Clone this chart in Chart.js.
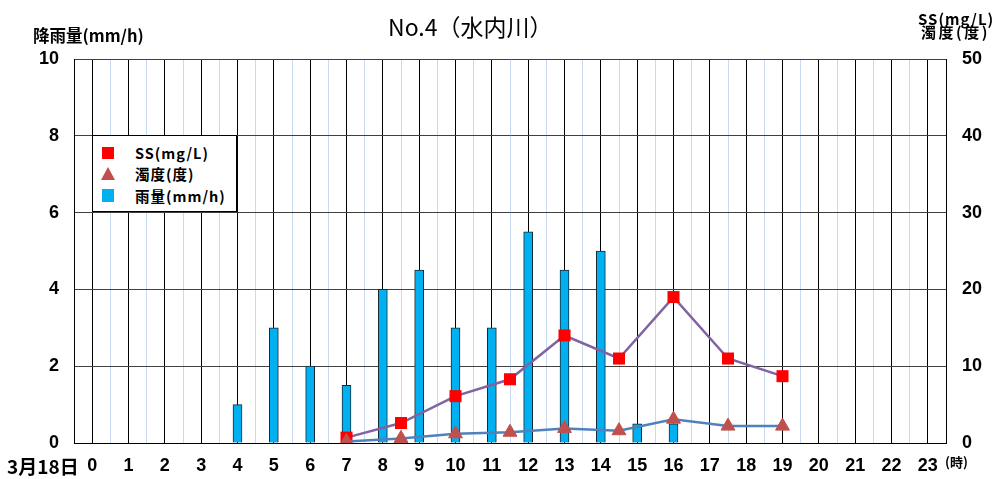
<!DOCTYPE html>
<html>
<head>
<meta charset="utf-8">
<script src="https://cdn.jsdelivr.net/npm/chart.js@4"></script>
<style>
  html, body { margin: 0; padding: 0; background: #fff; overflow: hidden; }
  #wrap { position: relative; width: 1000px; height: 479px; overflow: hidden; }
  canvas { position: absolute; left: 0; top: 0; }
  .t { position: absolute; white-space: nowrap; color: #000; font-family: "Noto Sans CJK JP", "Liberation Sans", sans-serif; }
  #legend { position: absolute; left: 92px; top: 135px; width: 143px; height: 75px; border: 1px solid #000; background: #fff; }
  .lrow { position: absolute; left: 0; height: 20px; width: 140px; }
  .lmark { position: absolute; }
  .ltext { position: absolute; left: 42px; top: 0; line-height: 20px; font-size: 14.5px; font-weight: 700; font-family: "Noto Sans CJK JP", sans-serif; letter-spacing: 1px; }
</style>
</head>
<body>
<div id="wrap">
  <canvas id="c" width="1000" height="479"></canvas>
  <div class="t" id="title" style="left:388px; top:13px; font-size:23px; line-height:27px; font-weight:400;"></div>
  <div class="t" id="ytitleL" style="left:33px; top:27px; font-size:16.5px; line-height:17px; font-weight:700;"></div>
  <div class="t" id="ytitleR1" style="left:918px; top:11px; font-size:15px; line-height:16px; font-weight:700; letter-spacing:1px;"></div>
  <div class="t" id="ytitleR2" style="left:921px; top:24px; font-size:15px; line-height:16px; font-weight:700; letter-spacing:2.5px;"></div>
  <div class="t" id="dateLabel" style="left:7px; top:455px; font-size:19px; line-height:21px; font-weight:700;"></div>
  <div class="t" id="unitLabel" style="left:945px; top:454px; font-size:13px; line-height:16px; font-weight:700;"></div>
  <div id="legend">
    <div class="lrow" style="top:7px;"><div class="lmark" style="left:9px; top:4px; width:12px; height:12px; background:#ff0000;"></div><div class="ltext" id="lg0"></div></div>
    <div class="lrow" style="top:28px;"><div class="lmark" style="left:8px; top:3px; width:0; height:0; border-left:7.5px solid transparent; border-right:7.5px solid transparent; border-bottom:13px solid #c0504d;"></div><div class="ltext" id="lg1"></div></div>
    <div class="lrow" style="top:50px;"><div class="lmark" style="left:9px; top:3px; width:12px; height:13px; background:#00b0f0;"></div><div class="ltext" id="lg2"></div></div>
  </div>
</div>
<script>
// ---- Data ----
const chartTitle = "No.4（水内川）";
const leftAxisTitle = "降雨量(mm/h)";
const rightAxisTitle1 = "SS(mg/L)";
const rightAxisTitle2 = "濁度(度)";
const dateText = "3月18日";
const unitText = "(時)";
const seriesNames = ["SS(mg/L)", "濁度(度)", "雨量(mm/h)"];

const hourLabels = ["0","1","2","3","4","5","6","7","8","9","10","11","12","13","14","15","16","17","18","19","20","21","22","23"];
const rainHours  = [4, 5, 6, 7, 8, 9, 10, 11, 12, 13, 14, 15, 16];
const rainValues = [1.0, 3.0, 2.0, 1.5, 4.0, 4.5, 3.0, 3.0, 5.5, 4.5, 5.0, 0.5, 0.5];
const sampleHours = [7, 8.5, 10, 11.5, 13, 14.5, 16, 17.5, 19];
const ssValues    = [0.7, 2.6, 6.1, 8.3, 14.0, 11.0, 19.0, 11.0, 8.7];
const turbValues  = [0.2, 0.6, 1.2, 1.4, 1.9, 1.6, 3.1, 2.2, 2.2];
const leftTicks  = [0, 2, 4, 6, 8, 10];
const rightTicks = [0, 10, 20, 30, 40, 50];

// ---- Text overlays ----
document.getElementById('title').textContent = chartTitle;
document.getElementById('ytitleL').textContent = leftAxisTitle;
document.getElementById('ytitleR1').textContent = rightAxisTitle1;
document.getElementById('ytitleR2').textContent = rightAxisTitle2;
document.getElementById('dateLabel').textContent = dateText;
document.getElementById('unitLabel').textContent = unitText;
seriesNames.forEach((n, i) => { document.getElementById('lg' + i).textContent = n; });

const tickFont = { family: '"Liberation Sans", Arial, sans-serif', size: 18, weight: 'bold' };

new Chart(document.getElementById('c'), {
  type: 'bar',
  data: {
    datasets: [
      {
        type: 'line', label: seriesNames[1], yAxisID: 'yR', order: 1,
        data: sampleHours.map((h, i) => ({ x: h, y: turbValues[i] })),
        borderColor: '#4f81bd', borderWidth: 2.5, tension: 0,
        pointStyle: 'triangle', pointRadius: 8, pointHoverRadius: 8,
        pointBackgroundColor: '#c0504d', pointBorderColor: '#c0504d', pointBorderWidth: 1
      },
      {
        type: 'line', label: seriesNames[0], yAxisID: 'yR', order: 2,
        data: sampleHours.map((h, i) => ({ x: h, y: ssValues[i] })),
        borderColor: '#8064a2', borderWidth: 2.5, tension: 0,
        pointStyle: 'rect', pointRadius: 8.5, pointHoverRadius: 8.5,
        pointBackgroundColor: '#ff0000', pointBorderColor: '#ff0000', pointBorderWidth: 0
      },
      {
        type: 'bar', label: seriesNames[2], yAxisID: 'yL', order: 3,
        data: rainHours.map((h, i) => ({ x: h, y: rainValues[i] })),
        backgroundColor: '#00b0f0', borderColor: '#1a2a33', borderWidth: 1,
        barThickness: 9, borderSkipped: 'bottom'
      }
    ]
  },
  options: {
    responsive: false, animation: false,
    layout: { padding: { top: 59, left: 0, right: 0, bottom: 0 } },
    plugins: { legend: { display: false }, tooltip: { enabled: false }, title: { display: false } },
    scales: {
      x: {
        type: 'linear', min: -0.5, max: 23.5, offset: false,
        afterFit: s => { s.height = 36; },
        afterBuildTicks: s => {
          const t = [];
          for (let i = -1; i <= 47; i++) t.push({ value: i / 2 });
          s.ticks = t;
        },
        ticks: {
          autoSkip: false, maxRotation: 0, minRotation: 0, padding: 12,
          color: '#000', font: tickFont,
          callback: v => (Number.isInteger(v) && v >= 0 && v <= 23) ? hourLabels[v] : ''
        },
        grid: {
          offset: false, drawTicks: false, lineWidth: 1,
          color: ctx => {
            const v = ctx.tick ? ctx.tick.value : 0;
            if (v === -0.5 || v === 23.5) return '#000';
            return Number.isInteger(v) ? '#000' : '#c6d9f1';
          }
        },
        border: { color: '#000', width: 1 }
      },
      yL: {
        type: 'linear', position: 'left', min: 0, max: 10,
        afterFit: s => { s.width = 74; },
        afterBuildTicks: s => { s.ticks = leftTicks.map(v => ({ value: v })); },
        ticks: { padding: 15, color: '#000', font: tickFont },
        grid: { drawTicks: false, color: '#404040', lineWidth: 1 },
        border: { color: '#000', width: 1 }
      },
      yR: {
        type: 'linear', position: 'right', min: 0, max: 50,
        afterFit: s => { s.width = 54; },
        afterBuildTicks: s => { s.ticks = rightTicks.map(v => ({ value: v })); },
        ticks: { padding: 16, color: '#000', font: tickFont },
        grid: { display: false, drawTicks: false },
        border: { color: '#000', width: 1 }
      }
    }
  }
});
</script>
</body>
</html>
